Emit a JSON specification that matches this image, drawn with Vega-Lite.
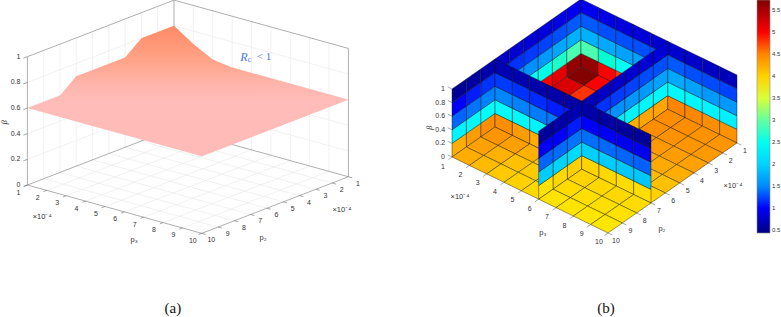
{"$schema":"https://vega.github.io/schema/vega-lite/v6.json","width":781,"height":317,"autosize":"none","padding":0,"background":"white","config":{"view":{"stroke":null}},
"data":{"values":[
{"panel":"a","kind":"grid","p3":2,"p2":1,"beta":0,"p3e":2,"p2e":10,"betae":0},{"panel":"a","kind":"grid","p3":3,"p2":1,"beta":0,"p3e":3,"p2e":10,"betae":0},{"panel":"a","kind":"grid","p3":4,"p2":1,"beta":0,"p3e":4,"p2e":10,"betae":0},{"panel":"a","kind":"grid","p3":5,"p2":1,"beta":0,"p3e":5,"p2e":10,"betae":0},{"panel":"a","kind":"grid","p3":6,"p2":1,"beta":0,"p3e":6,"p2e":10,"betae":0},{"panel":"a","kind":"grid","p3":7,"p2":1,"beta":0,"p3e":7,"p2e":10,"betae":0},{"panel":"a","kind":"grid","p3":8,"p2":1,"beta":0,"p3e":8,"p2e":10,"betae":0},{"panel":"a","kind":"grid","p3":9,"p2":1,"beta":0,"p3e":9,"p2e":10,"betae":0},
{"panel":"a","kind":"grid","p3":1,"p2":2,"beta":0,"p3e":10,"p2e":2,"betae":0},{"panel":"a","kind":"grid","p3":1,"p2":3,"beta":0,"p3e":10,"p2e":3,"betae":0},{"panel":"a","kind":"grid","p3":1,"p2":4,"beta":0,"p3e":10,"p2e":4,"betae":0},{"panel":"a","kind":"grid","p3":1,"p2":5,"beta":0,"p3e":10,"p2e":5,"betae":0},{"panel":"a","kind":"grid","p3":1,"p2":6,"beta":0,"p3e":10,"p2e":6,"betae":0},{"panel":"a","kind":"grid","p3":1,"p2":7,"beta":0,"p3e":10,"p2e":7,"betae":0},{"panel":"a","kind":"grid","p3":1,"p2":8,"beta":0,"p3e":10,"p2e":8,"betae":0},{"panel":"a","kind":"grid","p3":1,"p2":9,"beta":0,"p3e":10,"p2e":9,"betae":0},
{"panel":"a","kind":"grid","p3":1,"p2":2,"beta":0,"p3e":1,"p2e":2,"betae":1},{"panel":"a","kind":"grid","p3":1,"p2":3,"beta":0,"p3e":1,"p2e":3,"betae":1},{"panel":"a","kind":"grid","p3":1,"p2":4,"beta":0,"p3e":1,"p2e":4,"betae":1},{"panel":"a","kind":"grid","p3":1,"p2":5,"beta":0,"p3e":1,"p2e":5,"betae":1},{"panel":"a","kind":"grid","p3":1,"p2":6,"beta":0,"p3e":1,"p2e":6,"betae":1},{"panel":"a","kind":"grid","p3":1,"p2":7,"beta":0,"p3e":1,"p2e":7,"betae":1},{"panel":"a","kind":"grid","p3":1,"p2":8,"beta":0,"p3e":1,"p2e":8,"betae":1},{"panel":"a","kind":"grid","p3":1,"p2":9,"beta":0,"p3e":1,"p2e":9,"betae":1},
{"panel":"a","kind":"grid","p3":2,"p2":1,"beta":0,"p3e":2,"p2e":1,"betae":1},{"panel":"a","kind":"grid","p3":3,"p2":1,"beta":0,"p3e":3,"p2e":1,"betae":1},{"panel":"a","kind":"grid","p3":4,"p2":1,"beta":0,"p3e":4,"p2e":1,"betae":1},{"panel":"a","kind":"grid","p3":5,"p2":1,"beta":0,"p3e":5,"p2e":1,"betae":1},{"panel":"a","kind":"grid","p3":6,"p2":1,"beta":0,"p3e":6,"p2e":1,"betae":1},{"panel":"a","kind":"grid","p3":7,"p2":1,"beta":0,"p3e":7,"p2e":1,"betae":1},{"panel":"a","kind":"grid","p3":8,"p2":1,"beta":0,"p3e":8,"p2e":1,"betae":1},{"panel":"a","kind":"grid","p3":9,"p2":1,"beta":0,"p3e":9,"p2e":1,"betae":1},
{"panel":"a","kind":"grid","p3":1,"p2":10,"beta":0.2,"p3e":1,"p2e":1,"betae":0.2},{"panel":"a","kind":"grid","p3":1,"p2":10,"beta":0.4,"p3e":1,"p2e":1,"betae":0.4},{"panel":"a","kind":"grid","p3":1,"p2":10,"beta":0.6,"p3e":1,"p2e":1,"betae":0.6},{"panel":"a","kind":"grid","p3":1,"p2":10,"beta":0.8,"p3e":1,"p2e":1,"betae":0.8},
{"panel":"a","kind":"grid","p3":1,"p2":1,"beta":0.2,"p3e":10,"p2e":1,"betae":0.2},{"panel":"a","kind":"grid","p3":1,"p2":1,"beta":0.4,"p3e":10,"p2e":1,"betae":0.4},{"panel":"a","kind":"grid","p3":1,"p2":1,"beta":0.6,"p3e":10,"p2e":1,"betae":0.6},{"panel":"a","kind":"grid","p3":1,"p2":1,"beta":0.8,"p3e":10,"p2e":1,"betae":0.8},
{"panel":"a","kind":"box","p3":1,"p2":10,"beta":0,"p3e":1,"p2e":10,"betae":1},{"panel":"a","kind":"box","p3":1,"p2":1,"beta":0,"p3e":1,"p2e":1,"betae":1},{"panel":"a","kind":"box","p3":10,"p2":1,"beta":0,"p3e":10,"p2e":1,"betae":1},{"panel":"a","kind":"box","p3":1,"p2":10,"beta":1,"p3e":1,"p2e":1,"betae":1},{"panel":"a","kind":"box","p3":1,"p2":1,"beta":1,"p3e":10,"p2e":1,"betae":1},{"panel":"a","kind":"box","p3":1,"p2":10,"beta":0,"p3e":1,"p2e":1,"betae":0},{"panel":"a","kind":"box","p3":1,"p2":1,"beta":0,"p3e":10,"p2e":1,"betae":0},{"panel":"a","kind":"box","p3":1,"p2":10,"beta":0,"p3e":10,"p2e":10,"betae":0},{"panel":"a","kind":"box","p3":10,"p2":1,"beta":0,"p3e":10,"p2e":10,"betae":0},
{"panel":"a","kind":"surface","seq":1,"p3":1,"p2":10,"beta":0.6},{"panel":"a","kind":"surface","seq":2,"p3":1,"p2":8,"beta":0.6},{"panel":"a","kind":"surface","seq":3,"p3":1,"p2":7,"beta":0.7},{"panel":"a","kind":"surface","seq":4,"p3":1,"p2":4,"beta":0.7},{"panel":"a","kind":"surface","seq":5,"p3":1,"p2":3,"beta":0.8},{"panel":"a","kind":"surface","seq":6,"p3":1,"p2":1,"beta":0.8},{"panel":"a","kind":"surface","seq":7,"p3":2,"p2":1,"beta":0.7},{"panel":"a","kind":"surface","seq":8,"p3":3,"p2":1,"beta":0.62},{"panel":"a","kind":"surface","seq":9,"p3":4,"p2":1,"beta":0.6},{"panel":"a","kind":"surface","seq":10,"p3":10,"p2":1,"beta":0.6},{"panel":"a","kind":"surface","seq":11,"p3":10,"p2":10,"beta":0.6},{"panel":"a","kind":"surface","seq":12,"p3":1,"p2":10,"beta":0.6},

{"plane":"p3wall","p3":1,"p2":1,"beta":0,"value":5.6},{"plane":"p3wall","p3":1,"p2":1,"beta":0.2,"value":2.9},{"plane":"p3wall","p3":1,"p2":1,"beta":0.4,"value":1.76},{"plane":"p3wall","p3":1,"p2":1,"beta":0.6,"value":1.25},{"plane":"p3wall","p3":1,"p2":1,"beta":0.8,"value":0.95},
{"plane":"p3wall","p3":1,"p2":2,"beta":0,"value":5.15},{"plane":"p3wall","p3":1,"p2":2,"beta":0.2,"value":2.75},{"plane":"p3wall","p3":1,"p2":2,"beta":0.4,"value":1.68},{"plane":"p3wall","p3":1,"p2":2,"beta":0.6,"value":1.2},{"plane":"p3wall","p3":1,"p2":2,"beta":0.8,"value":0.9},
{"plane":"p3wall","p3":1,"p2":3,"beta":0,"value":5.0},{"plane":"p3wall","p3":1,"p2":3,"beta":0.2,"value":2.55},{"plane":"p3wall","p3":1,"p2":3,"beta":0.4,"value":1.6},{"plane":"p3wall","p3":1,"p2":3,"beta":0.6,"value":1.15},{"plane":"p3wall","p3":1,"p2":3,"beta":0.8,"value":0.87},
{"plane":"p3wall","p3":1,"p2":4,"beta":0,"value":4.95},{"plane":"p3wall","p3":1,"p2":4,"beta":0.2,"value":2.35},{"plane":"p3wall","p3":1,"p2":4,"beta":0.4,"value":1.55},{"plane":"p3wall","p3":1,"p2":4,"beta":0.6,"value":1.12},{"plane":"p3wall","p3":1,"p2":4,"beta":0.8,"value":0.84},
{"plane":"p3wall","p3":1,"p2":5,"beta":0,"value":4.85},{"plane":"p3wall","p3":1,"p2":5,"beta":0.2,"value":2.3},{"plane":"p3wall","p3":1,"p2":5,"beta":0.4,"value":1.52},{"plane":"p3wall","p3":1,"p2":5,"beta":0.6,"value":1.1},{"plane":"p3wall","p3":1,"p2":5,"beta":0.8,"value":0.82},
{"plane":"p3wall","p3":1,"p2":6,"beta":0,"value":4.7},{"plane":"p3wall","p3":1,"p2":6,"beta":0.2,"value":2.25},{"plane":"p3wall","p3":1,"p2":6,"beta":0.4,"value":1.5},{"plane":"p3wall","p3":1,"p2":6,"beta":0.6,"value":1.08},{"plane":"p3wall","p3":1,"p2":6,"beta":0.8,"value":0.78},
{"plane":"p2wall","p3":1,"p2":1,"beta":0,"value":5.6},{"plane":"p2wall","p3":1,"p2":1,"beta":0.2,"value":2.9},{"plane":"p2wall","p3":1,"p2":1,"beta":0.4,"value":1.76},{"plane":"p2wall","p3":1,"p2":1,"beta":0.6,"value":1.25},{"plane":"p2wall","p3":1,"p2":1,"beta":0.8,"value":0.95},
{"plane":"p2wall","p3":2,"p2":1,"beta":0,"value":5.0},{"plane":"p2wall","p3":2,"p2":1,"beta":0.2,"value":2.7},{"plane":"p2wall","p3":2,"p2":1,"beta":0.4,"value":1.7},{"plane":"p2wall","p3":2,"p2":1,"beta":0.6,"value":1.2},{"plane":"p2wall","p3":2,"p2":1,"beta":0.8,"value":0.9},
{"plane":"p2wall","p3":3,"p2":1,"beta":0,"value":4.85},{"plane":"p2wall","p3":3,"p2":1,"beta":0.2,"value":2.45},{"plane":"p2wall","p3":3,"p2":1,"beta":0.4,"value":1.65},{"plane":"p2wall","p3":3,"p2":1,"beta":0.6,"value":1.2},{"plane":"p2wall","p3":3,"p2":1,"beta":0.8,"value":0.87},
{"plane":"p2wall","p3":4,"p2":1,"beta":0,"value":4.7},{"plane":"p2wall","p3":4,"p2":1,"beta":0.2,"value":2.35},{"plane":"p2wall","p3":4,"p2":1,"beta":0.4,"value":1.65},{"plane":"p2wall","p3":4,"p2":1,"beta":0.6,"value":1.2},{"plane":"p2wall","p3":4,"p2":1,"beta":0.8,"value":0.85},
{"plane":"p2wall","p3":5,"p2":1,"beta":0,"value":4.6},{"plane":"p2wall","p3":5,"p2":1,"beta":0.2,"value":2.3},{"plane":"p2wall","p3":5,"p2":1,"beta":0.4,"value":1.65},{"plane":"p2wall","p3":5,"p2":1,"beta":0.6,"value":1.2},{"plane":"p2wall","p3":5,"p2":1,"beta":0.8,"value":0.82},
{"plane":"floor","p3":1,"p2":1,"beta":0,"value":5.7},{"plane":"floor","p3":2,"p2":1,"beta":0,"value":5.0},{"plane":"floor","p3":3,"p2":1,"beta":0,"value":4.9},{"plane":"floor","p3":4,"p2":1,"beta":0,"value":4.8},{"plane":"floor","p3":5,"p2":1,"beta":0,"value":4.75},
{"plane":"floor","p3":1,"p2":2,"beta":0,"value":5.2},{"plane":"floor","p3":2,"p2":2,"beta":0,"value":4.9},{"plane":"floor","p3":3,"p2":2,"beta":0,"value":4.85},{"plane":"floor","p3":4,"p2":2,"beta":0,"value":4.75},{"plane":"floor","p3":5,"p2":2,"beta":0,"value":4.7},
{"plane":"floor","p3":1,"p2":3,"beta":0,"value":5.0},{"plane":"floor","p3":2,"p2":3,"beta":0,"value":4.85},{"plane":"floor","p3":3,"p2":3,"beta":0,"value":4.8},{"plane":"floor","p3":4,"p2":3,"beta":0,"value":4.7},{"plane":"floor","p3":5,"p2":3,"beta":0,"value":4.65},
{"plane":"floor","p3":1,"p2":4,"beta":0,"value":4.9},{"plane":"floor","p3":2,"p2":4,"beta":0,"value":4.8},{"plane":"floor","p3":3,"p2":4,"beta":0,"value":4.75},{"plane":"floor","p3":4,"p2":4,"beta":0,"value":4.65},{"plane":"floor","p3":5,"p2":4,"beta":0,"value":4.6},
{"plane":"floor","p3":1,"p2":5,"beta":0,"value":4.8},{"plane":"floor","p3":2,"p2":5,"beta":0,"value":4.75},{"plane":"floor","p3":3,"p2":5,"beta":0,"value":4.7},{"plane":"floor","p3":4,"p2":5,"beta":0,"value":4.6},{"plane":"floor","p3":5,"p2":5,"beta":0,"value":4.55},
{"plane":"floor","p3":1,"p2":6,"beta":0,"value":4.7},{"plane":"floor","p3":2,"p2":6,"beta":0,"value":4.65},{"plane":"floor","p3":3,"p2":6,"beta":0,"value":4.6},{"plane":"floor","p3":4,"p2":6,"beta":0,"value":4.55},{"plane":"floor","p3":5,"p2":6,"beta":0,"value":4.5},

{"plane":"p2wall","p3":6,"p2":1,"beta":0,"value":4.5},{"plane":"p2wall","p3":6,"p2":1,"beta":0.2,"value":2.3},{"plane":"p2wall","p3":6,"p2":1,"beta":0.4,"value":1.7},{"plane":"p2wall","p3":6,"p2":1,"beta":0.6,"value":1.25},{"plane":"p2wall","p3":6,"p2":1,"beta":0.8,"value":0.8},
{"plane":"p2wall","p3":7,"p2":1,"beta":0,"value":4.48},{"plane":"p2wall","p3":7,"p2":1,"beta":0.2,"value":2.28},{"plane":"p2wall","p3":7,"p2":1,"beta":0.4,"value":1.65},{"plane":"p2wall","p3":7,"p2":1,"beta":0.6,"value":1.2},{"plane":"p2wall","p3":7,"p2":1,"beta":0.8,"value":0.78},
{"plane":"p2wall","p3":8,"p2":1,"beta":0,"value":4.45},{"plane":"p2wall","p3":8,"p2":1,"beta":0.2,"value":2.25},{"plane":"p2wall","p3":8,"p2":1,"beta":0.4,"value":1.6},{"plane":"p2wall","p3":8,"p2":1,"beta":0.6,"value":1.18},{"plane":"p2wall","p3":8,"p2":1,"beta":0.8,"value":0.75},
{"plane":"p2wall","p3":9,"p2":1,"beta":0,"value":4.42},{"plane":"p2wall","p3":9,"p2":1,"beta":0.2,"value":2.22},{"plane":"p2wall","p3":9,"p2":1,"beta":0.4,"value":1.6},{"plane":"p2wall","p3":9,"p2":1,"beta":0.6,"value":1.15},{"plane":"p2wall","p3":9,"p2":1,"beta":0.8,"value":0.72},
{"plane":"p3wall","p3":6,"p2":1,"beta":0,"value":4.3},{"plane":"p3wall","p3":6,"p2":1,"beta":0.2,"value":2.3},{"plane":"p3wall","p3":6,"p2":1,"beta":0.4,"value":1.65},{"plane":"p3wall","p3":6,"p2":1,"beta":0.6,"value":1.2},{"plane":"p3wall","p3":6,"p2":1,"beta":0.8,"value":0.85},
{"plane":"p3wall","p3":6,"p2":2,"beta":0,"value":4.3},{"plane":"p3wall","p3":6,"p2":2,"beta":0.2,"value":2.28},{"plane":"p3wall","p3":6,"p2":2,"beta":0.4,"value":1.6},{"plane":"p3wall","p3":6,"p2":2,"beta":0.6,"value":1.18},{"plane":"p3wall","p3":6,"p2":2,"beta":0.8,"value":0.83},
{"plane":"p3wall","p3":6,"p2":3,"beta":0,"value":4.25},{"plane":"p3wall","p3":6,"p2":3,"beta":0.2,"value":2.25},{"plane":"p3wall","p3":6,"p2":3,"beta":0.4,"value":1.58},{"plane":"p3wall","p3":6,"p2":3,"beta":0.6,"value":1.15},{"plane":"p3wall","p3":6,"p2":3,"beta":0.8,"value":0.8},
{"plane":"p3wall","p3":6,"p2":4,"beta":0,"value":4.2},{"plane":"p3wall","p3":6,"p2":4,"beta":0.2,"value":2.22},{"plane":"p3wall","p3":6,"p2":4,"beta":0.4,"value":1.55},{"plane":"p3wall","p3":6,"p2":4,"beta":0.6,"value":1.12},{"plane":"p3wall","p3":6,"p2":4,"beta":0.8,"value":0.78},
{"plane":"p3wall","p3":6,"p2":5,"beta":0,"value":4.15},{"plane":"p3wall","p3":6,"p2":5,"beta":0.2,"value":2.2},{"plane":"p3wall","p3":6,"p2":5,"beta":0.4,"value":1.5},{"plane":"p3wall","p3":6,"p2":5,"beta":0.6,"value":1.1},{"plane":"p3wall","p3":6,"p2":5,"beta":0.8,"value":0.75},
{"plane":"p3wall","p3":6,"p2":6,"beta":0,"value":4.05},{"plane":"p3wall","p3":6,"p2":6,"beta":0.2,"value":2.15},{"plane":"p3wall","p3":6,"p2":6,"beta":0.4,"value":1.45},{"plane":"p3wall","p3":6,"p2":6,"beta":0.6,"value":1.05},{"plane":"p3wall","p3":6,"p2":6,"beta":0.8,"value":0.72},
{"plane":"floor","p3":6,"p2":1,"beta":0,"value":4.45},{"plane":"floor","p3":7,"p2":1,"beta":0,"value":4.45},{"plane":"floor","p3":8,"p2":1,"beta":0,"value":4.42},{"plane":"floor","p3":9,"p2":1,"beta":0,"value":4.4},
{"plane":"floor","p3":6,"p2":2,"beta":0,"value":4.45},{"plane":"floor","p3":7,"p2":2,"beta":0,"value":4.42},{"plane":"floor","p3":8,"p2":2,"beta":0,"value":4.4},{"plane":"floor","p3":9,"p2":2,"beta":0,"value":4.38},
{"plane":"floor","p3":6,"p2":3,"beta":0,"value":4.4},{"plane":"floor","p3":7,"p2":3,"beta":0,"value":4.38},{"plane":"floor","p3":8,"p2":3,"beta":0,"value":4.35},{"plane":"floor","p3":9,"p2":3,"beta":0,"value":4.32},
{"plane":"floor","p3":6,"p2":4,"beta":0,"value":4.32},{"plane":"floor","p3":7,"p2":4,"beta":0,"value":4.3},{"plane":"floor","p3":8,"p2":4,"beta":0,"value":4.27},{"plane":"floor","p3":9,"p2":4,"beta":0,"value":4.25},
{"plane":"floor","p3":6,"p2":5,"beta":0,"value":4.2},{"plane":"floor","p3":7,"p2":5,"beta":0,"value":4.18},{"plane":"floor","p3":8,"p2":5,"beta":0,"value":4.15},{"plane":"floor","p3":9,"p2":5,"beta":0,"value":4.12},
{"plane":"floor","p3":6,"p2":6,"beta":0,"value":4.08},{"plane":"floor","p3":7,"p2":6,"beta":0,"value":4.05},{"plane":"floor","p3":8,"p2":6,"beta":0,"value":4.02},{"plane":"floor","p3":9,"p2":6,"beta":0,"value":4.0},

{"plane":"p3wall","p3":1,"p2":7,"beta":0,"value":4.45},{"plane":"p3wall","p3":1,"p2":7,"beta":0.2,"value":2.35},{"plane":"p3wall","p3":1,"p2":7,"beta":0.4,"value":1.45},{"plane":"p3wall","p3":1,"p2":7,"beta":0.6,"value":1.1},{"plane":"p3wall","p3":1,"p2":7,"beta":0.8,"value":0.65},
{"plane":"p3wall","p3":1,"p2":8,"beta":0,"value":4.35},{"plane":"p3wall","p3":1,"p2":8,"beta":0.2,"value":2.3},{"plane":"p3wall","p3":1,"p2":8,"beta":0.4,"value":1.38},{"plane":"p3wall","p3":1,"p2":8,"beta":0.6,"value":1.05},{"plane":"p3wall","p3":1,"p2":8,"beta":0.8,"value":0.6},
{"plane":"p3wall","p3":1,"p2":9,"beta":0,"value":4.25},{"plane":"p3wall","p3":1,"p2":9,"beta":0.2,"value":2.25},{"plane":"p3wall","p3":1,"p2":9,"beta":0.4,"value":1.3},{"plane":"p3wall","p3":1,"p2":9,"beta":0.6,"value":1.02},{"plane":"p3wall","p3":1,"p2":9,"beta":0.8,"value":0.55},
{"plane":"p2wall","p3":1,"p2":7,"beta":0,"value":4.45},{"plane":"p2wall","p3":1,"p2":7,"beta":0.2,"value":2.35},{"plane":"p2wall","p3":1,"p2":7,"beta":0.4,"value":1.48},{"plane":"p2wall","p3":1,"p2":7,"beta":0.6,"value":1.12},{"plane":"p2wall","p3":1,"p2":7,"beta":0.8,"value":0.68},
{"plane":"p2wall","p3":2,"p2":7,"beta":0,"value":4.35},{"plane":"p2wall","p3":2,"p2":7,"beta":0.2,"value":2.3},{"plane":"p2wall","p3":2,"p2":7,"beta":0.4,"value":1.45},{"plane":"p2wall","p3":2,"p2":7,"beta":0.6,"value":1.1},{"plane":"p2wall","p3":2,"p2":7,"beta":0.8,"value":0.66},
{"plane":"p2wall","p3":3,"p2":7,"beta":0,"value":4.25},{"plane":"p2wall","p3":3,"p2":7,"beta":0.2,"value":2.25},{"plane":"p2wall","p3":3,"p2":7,"beta":0.4,"value":1.42},{"plane":"p2wall","p3":3,"p2":7,"beta":0.6,"value":1.08},{"plane":"p2wall","p3":3,"p2":7,"beta":0.8,"value":0.64},
{"plane":"p2wall","p3":4,"p2":7,"beta":0,"value":4.15},{"plane":"p2wall","p3":4,"p2":7,"beta":0.2,"value":2.2},{"plane":"p2wall","p3":4,"p2":7,"beta":0.4,"value":1.4},{"plane":"p2wall","p3":4,"p2":7,"beta":0.6,"value":1.05},{"plane":"p2wall","p3":4,"p2":7,"beta":0.8,"value":0.62},
{"plane":"p2wall","p3":5,"p2":7,"beta":0,"value":4.05},{"plane":"p2wall","p3":5,"p2":7,"beta":0.2,"value":2.1},{"plane":"p2wall","p3":5,"p2":7,"beta":0.4,"value":1.38},{"plane":"p2wall","p3":5,"p2":7,"beta":0.6,"value":1.05},{"plane":"p2wall","p3":5,"p2":7,"beta":0.8,"value":0.62},
{"plane":"floor","p3":1,"p2":7,"beta":0,"value":4.4},{"plane":"floor","p3":2,"p2":7,"beta":0,"value":4.33},{"plane":"floor","p3":3,"p2":7,"beta":0,"value":4.22},{"plane":"floor","p3":4,"p2":7,"beta":0,"value":4.12},{"plane":"floor","p3":5,"p2":7,"beta":0,"value":4.05},
{"plane":"floor","p3":1,"p2":8,"beta":0,"value":4.32},{"plane":"floor","p3":2,"p2":8,"beta":0,"value":4.22},{"plane":"floor","p3":3,"p2":8,"beta":0,"value":4.12},{"plane":"floor","p3":4,"p2":8,"beta":0,"value":4.05},{"plane":"floor","p3":5,"p2":8,"beta":0,"value":4.0},
{"plane":"floor","p3":1,"p2":9,"beta":0,"value":4.25},{"plane":"floor","p3":2,"p2":9,"beta":0,"value":4.15},{"plane":"floor","p3":3,"p2":9,"beta":0,"value":4.05},{"plane":"floor","p3":4,"p2":9,"beta":0,"value":4.0},{"plane":"floor","p3":5,"p2":9,"beta":0,"value":3.95},

{"plane":"p3wall","p3":6,"p2":7,"beta":0,"value":4.0},{"plane":"p3wall","p3":6,"p2":7,"beta":0.2,"value":2.05},{"plane":"p3wall","p3":6,"p2":7,"beta":0.4,"value":1.38},{"plane":"p3wall","p3":6,"p2":7,"beta":0.6,"value":1.05},{"plane":"p3wall","p3":6,"p2":7,"beta":0.8,"value":0.68},
{"plane":"p3wall","p3":6,"p2":8,"beta":0,"value":3.95},{"plane":"p3wall","p3":6,"p2":8,"beta":0.2,"value":2.0},{"plane":"p3wall","p3":6,"p2":8,"beta":0.4,"value":1.33},{"plane":"p3wall","p3":6,"p2":8,"beta":0.6,"value":1.0},{"plane":"p3wall","p3":6,"p2":8,"beta":0.8,"value":0.62},
{"plane":"p3wall","p3":6,"p2":9,"beta":0,"value":3.88},{"plane":"p3wall","p3":6,"p2":9,"beta":0.2,"value":1.95},{"plane":"p3wall","p3":6,"p2":9,"beta":0.4,"value":1.3},{"plane":"p3wall","p3":6,"p2":9,"beta":0.6,"value":0.98},{"plane":"p3wall","p3":6,"p2":9,"beta":0.8,"value":0.58},
{"plane":"p2wall","p3":6,"p2":7,"beta":0,"value":3.98},{"plane":"p2wall","p3":6,"p2":7,"beta":0.2,"value":1.98},{"plane":"p2wall","p3":6,"p2":7,"beta":0.4,"value":1.35},{"plane":"p2wall","p3":6,"p2":7,"beta":0.6,"value":1.0},{"plane":"p2wall","p3":6,"p2":7,"beta":0.8,"value":0.62},
{"plane":"p2wall","p3":7,"p2":7,"beta":0,"value":3.95},{"plane":"p2wall","p3":7,"p2":7,"beta":0.2,"value":1.95},{"plane":"p2wall","p3":7,"p2":7,"beta":0.4,"value":1.32},{"plane":"p2wall","p3":7,"p2":7,"beta":0.6,"value":0.98},{"plane":"p2wall","p3":7,"p2":7,"beta":0.8,"value":0.6},
{"plane":"p2wall","p3":8,"p2":7,"beta":0,"value":3.92},{"plane":"p2wall","p3":8,"p2":7,"beta":0.2,"value":1.92},{"plane":"p2wall","p3":8,"p2":7,"beta":0.4,"value":1.3},{"plane":"p2wall","p3":8,"p2":7,"beta":0.6,"value":0.96},{"plane":"p2wall","p3":8,"p2":7,"beta":0.8,"value":0.58},
{"plane":"p2wall","p3":9,"p2":7,"beta":0,"value":3.9},{"plane":"p2wall","p3":9,"p2":7,"beta":0.2,"value":1.9},{"plane":"p2wall","p3":9,"p2":7,"beta":0.4,"value":1.28},{"plane":"p2wall","p3":9,"p2":7,"beta":0.6,"value":0.95},{"plane":"p2wall","p3":9,"p2":7,"beta":0.8,"value":0.56},
{"plane":"floor","p3":6,"p2":7,"beta":0,"value":3.98},{"plane":"floor","p3":7,"p2":7,"beta":0,"value":3.95},{"plane":"floor","p3":8,"p2":7,"beta":0,"value":3.95},{"plane":"floor","p3":9,"p2":7,"beta":0,"value":3.92},
{"plane":"floor","p3":6,"p2":8,"beta":0,"value":3.92},{"plane":"floor","p3":7,"p2":8,"beta":0,"value":3.9},{"plane":"floor","p3":8,"p2":8,"beta":0,"value":3.9},{"plane":"floor","p3":9,"p2":8,"beta":0,"value":3.88},
{"plane":"floor","p3":6,"p2":9,"beta":0,"value":3.88},{"plane":"floor","p3":7,"p2":9,"beta":0,"value":3.87},{"plane":"floor","p3":8,"p2":9,"beta":0,"value":3.86},{"plane":"floor","p3":9,"p2":9,"beta":0,"value":3.85},

{"panel":"a","kind":"tick","p3":1,"p2":10,"beta":0,"p3e":1,"p2e":10.2,"betae":0},{"panel":"a","kind":"tick","p3":2,"p2":10,"beta":0,"p3e":2,"p2e":10.2,"betae":0},{"panel":"a","kind":"tick","p3":3,"p2":10,"beta":0,"p3e":3,"p2e":10.2,"betae":0},{"panel":"a","kind":"tick","p3":4,"p2":10,"beta":0,"p3e":4,"p2e":10.2,"betae":0},{"panel":"a","kind":"tick","p3":5,"p2":10,"beta":0,"p3e":5,"p2e":10.2,"betae":0},{"panel":"a","kind":"tick","p3":6,"p2":10,"beta":0,"p3e":6,"p2e":10.2,"betae":0},{"panel":"a","kind":"tick","p3":7,"p2":10,"beta":0,"p3e":7,"p2e":10.2,"betae":0},{"panel":"a","kind":"tick","p3":8,"p2":10,"beta":0,"p3e":8,"p2e":10.2,"betae":0},{"panel":"a","kind":"tick","p3":9,"p2":10,"beta":0,"p3e":9,"p2e":10.2,"betae":0},{"panel":"a","kind":"tick","p3":10,"p2":10,"beta":0,"p3e":10,"p2e":10.2,"betae":0},
{"panel":"a","kind":"tick","p3":10,"p2":1,"beta":0,"p3e":10.2,"p2e":1,"betae":0},{"panel":"a","kind":"tick","p3":10,"p2":2,"beta":0,"p3e":10.2,"p2e":2,"betae":0},{"panel":"a","kind":"tick","p3":10,"p2":3,"beta":0,"p3e":10.2,"p2e":3,"betae":0},{"panel":"a","kind":"tick","p3":10,"p2":4,"beta":0,"p3e":10.2,"p2e":4,"betae":0},{"panel":"a","kind":"tick","p3":10,"p2":5,"beta":0,"p3e":10.2,"p2e":5,"betae":0},{"panel":"a","kind":"tick","p3":10,"p2":6,"beta":0,"p3e":10.2,"p2e":6,"betae":0},{"panel":"a","kind":"tick","p3":10,"p2":7,"beta":0,"p3e":10.2,"p2e":7,"betae":0},{"panel":"a","kind":"tick","p3":10,"p2":8,"beta":0,"p3e":10.2,"p2e":8,"betae":0},{"panel":"a","kind":"tick","p3":10,"p2":9,"beta":0,"p3e":10.2,"p2e":9,"betae":0},{"panel":"a","kind":"tick","p3":10,"p2":10,"beta":0,"p3e":10.2,"p2e":10,"betae":0},
{"panel":"a","kind":"tick","p3":1,"p2":10,"beta":0,"p3e":1,"p2e":10.25,"betae":0},{"panel":"a","kind":"tick","p3":1,"p2":10,"beta":0.2,"p3e":1,"p2e":10.25,"betae":0.2},{"panel":"a","kind":"tick","p3":1,"p2":10,"beta":0.4,"p3e":1,"p2e":10.25,"betae":0.4},{"panel":"a","kind":"tick","p3":1,"p2":10,"beta":0.6,"p3e":1,"p2e":10.25,"betae":0.6},{"panel":"a","kind":"tick","p3":1,"p2":10,"beta":0.8,"p3e":1,"p2e":10.25,"betae":0.8},{"panel":"a","kind":"tick","p3":1,"p2":10,"beta":1,"p3e":1,"p2e":10.25,"betae":1},
{"panel":"b","kind":"tick","p3":1,"p2":10,"beta":0,"p3e":1,"p2e":10.25,"betae":0},{"panel":"b","kind":"tick","p3":2,"p2":10,"beta":0,"p3e":2,"p2e":10.25,"betae":0},{"panel":"b","kind":"tick","p3":3,"p2":10,"beta":0,"p3e":3,"p2e":10.25,"betae":0},{"panel":"b","kind":"tick","p3":4,"p2":10,"beta":0,"p3e":4,"p2e":10.25,"betae":0},{"panel":"b","kind":"tick","p3":5,"p2":10,"beta":0,"p3e":5,"p2e":10.25,"betae":0},{"panel":"b","kind":"tick","p3":6,"p2":10,"beta":0,"p3e":6,"p2e":10.25,"betae":0},{"panel":"b","kind":"tick","p3":7,"p2":10,"beta":0,"p3e":7,"p2e":10.25,"betae":0},{"panel":"b","kind":"tick","p3":8,"p2":10,"beta":0,"p3e":8,"p2e":10.25,"betae":0},{"panel":"b","kind":"tick","p3":9,"p2":10,"beta":0,"p3e":9,"p2e":10.25,"betae":0},{"panel":"b","kind":"tick","p3":10,"p2":10,"beta":0,"p3e":10,"p2e":10.25,"betae":0},
{"panel":"b","kind":"tick","p3":10,"p2":1,"beta":0,"p3e":10.25,"p2e":1,"betae":0},{"panel":"b","kind":"tick","p3":10,"p2":2,"beta":0,"p3e":10.25,"p2e":2,"betae":0},{"panel":"b","kind":"tick","p3":10,"p2":3,"beta":0,"p3e":10.25,"p2e":3,"betae":0},{"panel":"b","kind":"tick","p3":10,"p2":4,"beta":0,"p3e":10.25,"p2e":4,"betae":0},{"panel":"b","kind":"tick","p3":10,"p2":5,"beta":0,"p3e":10.25,"p2e":5,"betae":0},{"panel":"b","kind":"tick","p3":10,"p2":6,"beta":0,"p3e":10.25,"p2e":6,"betae":0},{"panel":"b","kind":"tick","p3":10,"p2":7,"beta":0,"p3e":10.25,"p2e":7,"betae":0},{"panel":"b","kind":"tick","p3":10,"p2":8,"beta":0,"p3e":10.25,"p2e":8,"betae":0},{"panel":"b","kind":"tick","p3":10,"p2":9,"beta":0,"p3e":10.25,"p2e":9,"betae":0},{"panel":"b","kind":"tick","p3":10,"p2":10,"beta":0,"p3e":10.25,"p2e":10,"betae":0},
{"panel":"b","kind":"tick","p3":1,"p2":10,"beta":0,"p3e":0.75,"p2e":10,"betae":0},{"panel":"b","kind":"tick","p3":1,"p2":10,"beta":0.2,"p3e":0.75,"p2e":10,"betae":0.2},{"panel":"b","kind":"tick","p3":1,"p2":10,"beta":0.4,"p3e":0.75,"p2e":10,"betae":0.4},{"panel":"b","kind":"tick","p3":1,"p2":10,"beta":0.6,"p3e":0.75,"p2e":10,"betae":0.6},{"panel":"b","kind":"tick","p3":1,"p2":10,"beta":0.8,"p3e":0.75,"p2e":10,"betae":0.8},{"panel":"b","kind":"tick","p3":1,"p2":10,"beta":1,"p3e":0.75,"p2e":10,"betae":1},

{"panel":"a","kind":"label3","label":"1","p3":1,"p2":10,"beta":0},{"panel":"a","kind":"label3","label":"2","p3":2,"p2":10,"beta":0},{"panel":"a","kind":"label3","label":"3","p3":3,"p2":10,"beta":0},{"panel":"a","kind":"label3","label":"4","p3":4,"p2":10,"beta":0},{"panel":"a","kind":"label3","label":"5","p3":5,"p2":10,"beta":0},{"panel":"a","kind":"label3","label":"6","p3":6,"p2":10,"beta":0},{"panel":"a","kind":"label3","label":"7","p3":7,"p2":10,"beta":0},{"panel":"a","kind":"label3","label":"8","p3":8,"p2":10,"beta":0},{"panel":"a","kind":"label3","label":"9","p3":9,"p2":10,"beta":0},{"panel":"a","kind":"label3","label":"10","p3":10,"p2":10,"beta":0},
{"panel":"a","kind":"label2","label":"1","p3":10,"p2":1,"beta":0},{"panel":"a","kind":"label2","label":"2","p3":10,"p2":2,"beta":0},{"panel":"a","kind":"label2","label":"3","p3":10,"p2":3,"beta":0},{"panel":"a","kind":"label2","label":"4","p3":10,"p2":4,"beta":0},{"panel":"a","kind":"label2","label":"5","p3":10,"p2":5,"beta":0},{"panel":"a","kind":"label2","label":"6","p3":10,"p2":6,"beta":0},{"panel":"a","kind":"label2","label":"7","p3":10,"p2":7,"beta":0},{"panel":"a","kind":"label2","label":"8","p3":10,"p2":8,"beta":0},{"panel":"a","kind":"label2","label":"9","p3":10,"p2":9,"beta":0},{"panel":"a","kind":"label2","label":"10","p3":10,"p2":10,"beta":0},
{"panel":"b","kind":"label3","label":"1","p3":1,"p2":10,"beta":0},{"panel":"b","kind":"label3","label":"2","p3":2,"p2":10,"beta":0},{"panel":"b","kind":"label3","label":"3","p3":3,"p2":10,"beta":0},{"panel":"b","kind":"label3","label":"4","p3":4,"p2":10,"beta":0},{"panel":"b","kind":"label3","label":"5","p3":5,"p2":10,"beta":0},{"panel":"b","kind":"label3","label":"6","p3":6,"p2":10,"beta":0},{"panel":"b","kind":"label3","label":"7","p3":7,"p2":10,"beta":0},{"panel":"b","kind":"label3","label":"8","p3":8,"p2":10,"beta":0},{"panel":"b","kind":"label3","label":"9","p3":9,"p2":10,"beta":0},{"panel":"b","kind":"label3","label":"10","p3":10,"p2":10,"beta":0},
{"panel":"b","kind":"label2","label":"1","p3":10,"p2":1,"beta":0},{"panel":"b","kind":"label2","label":"2","p3":10,"p2":2,"beta":0},{"panel":"b","kind":"label2","label":"3","p3":10,"p2":3,"beta":0},{"panel":"b","kind":"label2","label":"4","p3":10,"p2":4,"beta":0},{"panel":"b","kind":"label2","label":"5","p3":10,"p2":5,"beta":0},{"panel":"b","kind":"label2","label":"6","p3":10,"p2":6,"beta":0},{"panel":"b","kind":"label2","label":"7","p3":10,"p2":7,"beta":0},{"panel":"b","kind":"label2","label":"8","p3":10,"p2":8,"beta":0},{"panel":"b","kind":"label2","label":"9","p3":10,"p2":9,"beta":0},{"panel":"b","kind":"label2","label":"10","p3":10,"p2":10,"beta":0},
{"panel":"a","kind":"labelb","label":"0","p3":1,"p2":10,"beta":0},{"panel":"a","kind":"labelb","label":"0.2","p3":1,"p2":10,"beta":0.2},{"panel":"a","kind":"labelb","label":"0.4","p3":1,"p2":10,"beta":0.4},{"panel":"a","kind":"labelb","label":"0.6","p3":1,"p2":10,"beta":0.6},{"panel":"a","kind":"labelb","label":"0.8","p3":1,"p2":10,"beta":0.8},{"panel":"a","kind":"labelb","label":"1","p3":1,"p2":10,"beta":1},
{"panel":"b","kind":"labelb","label":"0","p3":1,"p2":10,"beta":0},{"panel":"b","kind":"labelb","label":"0.2","p3":1,"p2":10,"beta":0.2},{"panel":"b","kind":"labelb","label":"0.4","p3":1,"p2":10,"beta":0.4},{"panel":"b","kind":"labelb","label":"0.6","p3":1,"p2":10,"beta":0.6},{"panel":"b","kind":"labelb","label":"0.8","p3":1,"p2":10,"beta":0.8},{"panel":"b","kind":"labelb","label":"1","p3":1,"p2":10,"beta":1},
{"panel":"a","kind":"name","label":"p₃","p3":8.48,"p2":12.35,"beta":0},{"panel":"a","kind":"name","label":"p₂","p3":12.2,"p2":8.86,"beta":0},{"panel":"a","kind":"name","label":"×10⁻⁴","p3":3.93,"p2":12.58,"beta":0},{"panel":"a","kind":"name","label":"×10⁻⁴","p3":12.39,"p2":4.24,"beta":0},
{"panel":"b","kind":"name","label":"p₃","p3":7.79,"p2":11.87,"beta":0},{"panel":"b","kind":"name","label":"p₂","p3":11.64,"p2":8.22,"beta":0},{"panel":"b","kind":"name","label":"×10⁻⁴","p3":3.22,"p2":12.13,"beta":0},{"panel":"b","kind":"name","label":"×10⁻⁴","p3":11.96,"p2":3.65,"beta":0},
{"panel":"a","kind":"betaname","label":"β","p3":1,"p2":10,"beta":0.49},{"panel":"b","kind":"betaname","label":"β","p3":1,"p2":10,"beta":0.43},
{"panel":"a","kind":"caption","label":"(a)","p3":14.94,"p2":17.65,"beta":0},{"panel":"b","kind":"caption","label":"(b)","p3":13.59,"p2":14.48,"beta":0},
{"panel":"a","kind":"noteR","label":"R","p3":5.53,"p2":2.09,"beta":0.8},{"panel":"a","kind":"noteC","label":"c","p3":5.93,"p2":2.23,"beta":0.8},{"panel":"a","kind":"noteLt","label":"< 1","p3":6.13,"p2":1.58,"beta":0.8}
]},
"transform":[
{"window":[{"op":"row_number","as":"id"}]},
{"calculate":"datum.plane?[0,1,2,3,4]:(isValid(datum.p3e)?[0,1]:[0])","as":"k"},
{"flatten":["k"]},
{"calculate":"isValid(datum.p3e)?(datum.k===1?datum.p3e:datum.p3):((datum.plane==='floor'||datum.plane==='p2wall')?datum.p3+[0,1,1,0,0][datum.k]:datum.p3)","as":"u3"},
{"calculate":"isValid(datum.p3e)?(datum.k===1?datum.p2e:datum.p2):(datum.plane==='floor'?datum.p2+[0,0,1,1,0][datum.k]:(datum.plane==='p3wall'?datum.p2+[0,1,1,0,0][datum.k]:datum.p2))","as":"u2"},
{"calculate":"isValid(datum.p3e)?(datum.k===1?datum.betae:datum.beta):((datum.plane==='p3wall'||datum.plane==='p2wall')?datum.beta+0.2*[0,0,1,1,0][datum.k]:datum.beta)","as":"ub"},
{"calculate":"datum.panel==='a'?174+19.38*(datum.u3-1)-16.29*(datum.u2-1):581+17.33*(datum.u3-1)-14.33*(datum.u2-1)","as":"sx"},
{"calculate":"datum.panel==='a'?128.4+5.37*(datum.u3-1)+6.29*(datum.u2-1)-128.3*datum.ub:67+8.44*(datum.u3-1)+10*(datum.u2-1)-68*datum.ub","as":"sy"}
],
"encoding":{
"x":{"field":"sx","type":"quantitative","axis":null,"scale":{"domain":[0,781],"nice":false,"zero":false}},
"y":{"field":"sy","type":"quantitative","axis":null,"scale":{"domain":[317,0],"nice":false,"zero":false}}
},
"layer":[
{"transform":[{"filter":"datum.kind==='grid'"}],"mark":{"type":"line","stroke":"#e8e8e8","strokeWidth":0.6},"encoding":{"detail":{"field":"id"},"order":{"field":"k"}}},
{"transform":[{"filter":"datum.kind==='box'"}],"mark":{"type":"line","stroke":"#8c8c8c","strokeWidth":0.7},"encoding":{"detail":{"field":"id"},"order":{"field":"k"}}},
{"transform":[{"filter":"datum.kind==='surface'"}],"mark":{"type":"line","filled":true,"stroke":null,"fill":{"gradient":"linear","x1":0,"y1":0,"x2":0,"y2":1,"stops":[{"offset":0,"color":"#FF8A66"},{"offset":0.25,"color":"#FFA285"},{"offset":0.45,"color":"#FFB5AC"},{"offset":0.57,"color":"#FFBCB8"},{"offset":1,"color":"#FFBBB8"}]}},"encoding":{"order":{"field":"seq"}}},
{"transform":[{"filter":"datum.plane"}],"mark":{"type":"line","filled":true,"stroke":"#111111","strokeWidth":0.5,"strokeOpacity":0.85},"encoding":{"detail":{"field":"id"},"order":{"field":"k"},
"color":{"field":"value","type":"quantitative","scale":{"domain":[0.44,1.02,2.35,3.67,4.99,5.73],"range":["#000080","#0000ff","#00ffff","#ffff00","#ff0000","#800000"]},
"legend":{"orient":"none","legendX":757,"legendY":0,"title":null,"gradientLength":233,"gradientThickness":13,"values":[0.5,1,1.5,2,2.5,3,3.5,4,4.5,5,5.5],"format":".1~f","labelFontSize":6,"labelFont":"Liberation Sans","labelColor":"#333333","labelOverlap":false,"labelOffset":2,"gradientStrokeColor":"#8c8c8c","gradientStrokeWidth":0.6}}}},
{"transform":[{"filter":"datum.kind==='tick'"}],"mark":{"type":"line","stroke":"#555555","strokeWidth":0.5},"encoding":{"detail":{"field":"id"},"order":{"field":"k"}}},
{"transform":[{"filter":"datum.kind==='label3'&&datum.panel==='a'"}],"mark":{"type":"text","font":"Liberation Sans","fontSize":7,"color":"#333333","dx":-9,"dy":7.5},"encoding":{"text":{"field":"label"}}},
{"transform":[{"filter":"datum.kind==='label2'&&datum.panel==='a'"}],"mark":{"type":"text","font":"Liberation Sans","fontSize":7,"color":"#333333","dx":9.5,"dy":7},"encoding":{"text":{"field":"label"}}},
{"transform":[{"filter":"datum.kind==='label3'&&datum.panel==='b'"}],"mark":{"type":"text","font":"Liberation Sans","fontSize":7,"color":"#333333","dx":-9,"dy":9.5},"encoding":{"text":{"field":"label"}}},
{"transform":[{"filter":"datum.kind==='label2'&&datum.panel==='b'"}],"mark":{"type":"text","font":"Liberation Sans","fontSize":7,"color":"#333333","dx":8,"dy":8},"encoding":{"text":{"field":"label"}}},
{"transform":[{"filter":"datum.kind==='labelb'"}],"mark":{"type":"text","font":"Liberation Sans","fontSize":7,"color":"#333333","align":"right","dx":-7},"encoding":{"text":{"field":"label"}}},
{"transform":[{"filter":"datum.kind==='name'"}],"mark":{"type":"text","font":"Liberation Sans","fontSize":7.5,"color":"#333333"},"encoding":{"text":{"field":"label"}}},
{"transform":[{"filter":"datum.kind==='betaname'"}],"mark":{"type":"text","font":"Liberation Serif","fontStyle":"italic","fontSize":8,"color":"#333333","angle":270,"dy":-22.5},"encoding":{"text":{"field":"label"}}},
{"transform":[{"filter":"datum.kind==='caption'"}],"mark":{"type":"text","font":"Liberation Serif","fontSize":15,"color":"#111111"},"encoding":{"text":{"field":"label"}}},
{"transform":[{"filter":"datum.kind==='noteR'"}],"mark":{"type":"text","font":"Liberation Serif","fontStyle":"italic","fontSize":12,"color":"#4a78ea"},"encoding":{"text":{"field":"label"}}},
{"transform":[{"filter":"datum.kind==='noteC'"}],"mark":{"type":"text","font":"Liberation Serif","fontSize":8,"color":"#4a78ea"},"encoding":{"text":{"field":"label"}}},
{"transform":[{"filter":"datum.kind==='noteLt'"}],"mark":{"type":"text","font":"Liberation Serif","fontSize":11,"color":"#4a78ea"},"encoding":{"text":{"field":"label"}}}
]}
